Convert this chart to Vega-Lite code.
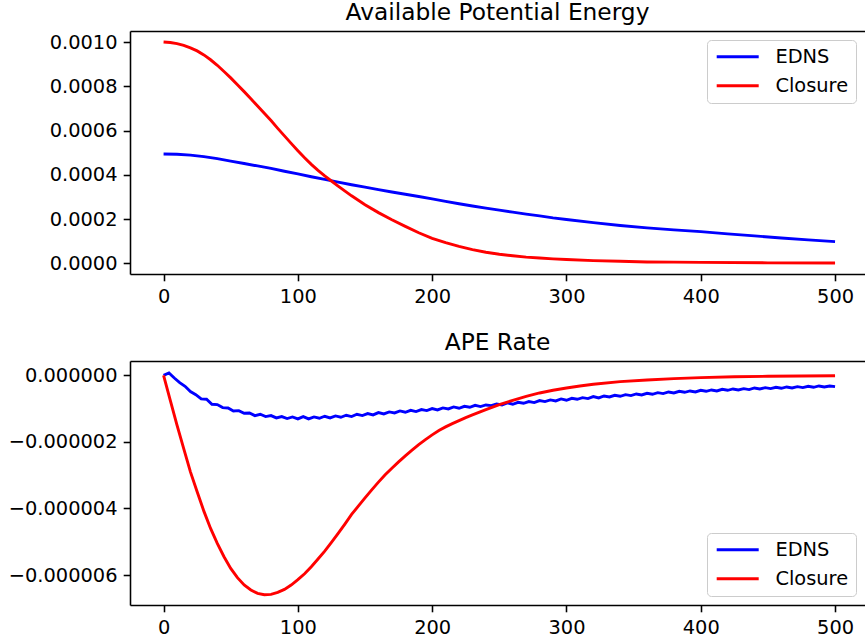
{
  "$schema": "https://vega.github.io/schema/vega-lite/v6.json",
  "padding": {"left": 5, "top": 0, "right": 0, "bottom": 0},
  "background": "white",
  "spacing": 24,
  "datasets": {
    "ape": [
      {"t": 0, "value": 0.000494, "series": "EDNS"},
      {"t": 10, "value": 0.000493, "series": "EDNS"},
      {"t": 20, "value": 0.000489, "series": "EDNS"},
      {"t": 30, "value": 0.000482, "series": "EDNS"},
      {"t": 40, "value": 0.000473, "series": "EDNS"},
      {"t": 50, "value": 0.000462, "series": "EDNS"},
      {"t": 60, "value": 0.000451, "series": "EDNS"},
      {"t": 70, "value": 0.000440, "series": "EDNS"},
      {"t": 80, "value": 0.000429, "series": "EDNS"},
      {"t": 90, "value": 0.000416, "series": "EDNS"},
      {"t": 100, "value": 0.000404, "series": "EDNS"},
      {"t": 110, "value": 0.000391, "series": "EDNS"},
      {"t": 120, "value": 0.000379, "series": "EDNS"},
      {"t": 130, "value": 0.000367, "series": "EDNS"},
      {"t": 140, "value": 0.000355, "series": "EDNS"},
      {"t": 150, "value": 0.000344, "series": "EDNS"},
      {"t": 160, "value": 0.000333, "series": "EDNS"},
      {"t": 170, "value": 0.000322, "series": "EDNS"},
      {"t": 180, "value": 0.000312, "series": "EDNS"},
      {"t": 190, "value": 0.000302, "series": "EDNS"},
      {"t": 200, "value": 0.000291, "series": "EDNS"},
      {"t": 210, "value": 0.000280, "series": "EDNS"},
      {"t": 220, "value": 0.000269, "series": "EDNS"},
      {"t": 230, "value": 0.000259, "series": "EDNS"},
      {"t": 240, "value": 0.000249, "series": "EDNS"},
      {"t": 250, "value": 0.000240, "series": "EDNS"},
      {"t": 260, "value": 0.000231, "series": "EDNS"},
      {"t": 270, "value": 0.000222, "series": "EDNS"},
      {"t": 280, "value": 0.000214, "series": "EDNS"},
      {"t": 290, "value": 0.000205, "series": "EDNS"},
      {"t": 300, "value": 0.000198, "series": "EDNS"},
      {"t": 320, "value": 0.000184, "series": "EDNS"},
      {"t": 340, "value": 0.000171, "series": "EDNS"},
      {"t": 360, "value": 0.000160, "series": "EDNS"},
      {"t": 380, "value": 0.000151, "series": "EDNS"},
      {"t": 400, "value": 0.000143, "series": "EDNS"},
      {"t": 420, "value": 0.000133, "series": "EDNS"},
      {"t": 440, "value": 0.000124, "series": "EDNS"},
      {"t": 460, "value": 0.000114, "series": "EDNS"},
      {"t": 480, "value": 0.000106, "series": "EDNS"},
      {"t": 500, "value": 0.000098, "series": "EDNS"},
      {"t": 0, "value": 0.001000, "series": "Closure"},
      {"t": 5, "value": 0.000998, "series": "Closure"},
      {"t": 10, "value": 0.000993, "series": "Closure"},
      {"t": 15, "value": 0.000985, "series": "Closure"},
      {"t": 20, "value": 0.000974, "series": "Closure"},
      {"t": 25, "value": 0.000960, "series": "Closure"},
      {"t": 30, "value": 0.000942, "series": "Closure"},
      {"t": 35, "value": 0.000920, "series": "Closure"},
      {"t": 40, "value": 0.000895, "series": "Closure"},
      {"t": 45, "value": 0.000867, "series": "Closure"},
      {"t": 50, "value": 0.000838, "series": "Closure"},
      {"t": 55, "value": 0.000807, "series": "Closure"},
      {"t": 60, "value": 0.000776, "series": "Closure"},
      {"t": 65, "value": 0.000744, "series": "Closure"},
      {"t": 70, "value": 0.000711, "series": "Closure"},
      {"t": 75, "value": 0.000678, "series": "Closure"},
      {"t": 80, "value": 0.000645, "series": "Closure"},
      {"t": 85, "value": 0.000610, "series": "Closure"},
      {"t": 90, "value": 0.000576, "series": "Closure"},
      {"t": 95, "value": 0.000542, "series": "Closure"},
      {"t": 100, "value": 0.000509, "series": "Closure"},
      {"t": 105, "value": 0.000477, "series": "Closure"},
      {"t": 110, "value": 0.000447, "series": "Closure"},
      {"t": 115, "value": 0.000420, "series": "Closure"},
      {"t": 120, "value": 0.000395, "series": "Closure"},
      {"t": 125, "value": 0.000372, "series": "Closure"},
      {"t": 130, "value": 0.000349, "series": "Closure"},
      {"t": 140, "value": 0.000305, "series": "Closure"},
      {"t": 150, "value": 0.000265, "series": "Closure"},
      {"t": 160, "value": 0.000229, "series": "Closure"},
      {"t": 170, "value": 0.000197, "series": "Closure"},
      {"t": 180, "value": 0.000167, "series": "Closure"},
      {"t": 190, "value": 0.000138, "series": "Closure"},
      {"t": 200, "value": 0.000113, "series": "Closure"},
      {"t": 210, "value": 0.000093, "series": "Closure"},
      {"t": 220, "value": 0.000076, "series": "Closure"},
      {"t": 230, "value": 0.000062, "series": "Closure"},
      {"t": 240, "value": 0.000050, "series": "Closure"},
      {"t": 250, "value": 0.000041, "series": "Closure"},
      {"t": 260, "value": 0.000034, "series": "Closure"},
      {"t": 270, "value": 0.000028, "series": "Closure"},
      {"t": 280, "value": 0.000024, "series": "Closure"},
      {"t": 290, "value": 0.000020, "series": "Closure"},
      {"t": 300, "value": 0.000017, "series": "Closure"},
      {"t": 320, "value": 0.000012, "series": "Closure"},
      {"t": 340, "value": 0.000009, "series": "Closure"},
      {"t": 360, "value": 0.000006, "series": "Closure"},
      {"t": 380, "value": 0.000005, "series": "Closure"},
      {"t": 400, "value": 0.000004, "series": "Closure"},
      {"t": 450, "value": 0.000002, "series": "Closure"},
      {"t": 500, "value": 0.000001, "series": "Closure"}
    ],
    "rate": [
      {"t": 0, "value": 0.0, "series": "EDNS"},
      {"t": 4, "value": 0.07e-6, "series": "EDNS"},
      {"t": 8, "value": -0.08e-6, "series": "EDNS"},
      {"t": 12, "value": -0.22e-6, "series": "EDNS"},
      {"t": 16, "value": -0.33e-6, "series": "EDNS"},
      {"t": 20, "value": -0.49e-6, "series": "EDNS"},
      {"t": 24, "value": -0.58e-6, "series": "EDNS"},
      {"t": 28, "value": -0.71e-6, "series": "EDNS"},
      {"t": 32, "value": -0.72e-6, "series": "EDNS"},
      {"t": 36, "value": -0.87e-6, "series": "EDNS"},
      {"t": 40, "value": -0.88e-6, "series": "EDNS"},
      {"t": 44, "value": -0.97e-6, "series": "EDNS"},
      {"t": 48, "value": -0.98e-6, "series": "EDNS"},
      {"t": 52, "value": -1.07e-6, "series": "EDNS"},
      {"t": 56, "value": -1.06e-6, "series": "EDNS"},
      {"t": 60, "value": -1.14e-6, "series": "EDNS"},
      {"t": 64, "value": -1.13e-6, "series": "EDNS"},
      {"t": 68, "value": -1.21e-6, "series": "EDNS"},
      {"t": 72, "value": -1.17e-6, "series": "EDNS"},
      {"t": 76, "value": -1.24e-6, "series": "EDNS"},
      {"t": 80, "value": -1.21e-6, "series": "EDNS"},
      {"t": 84, "value": -1.28e-6, "series": "EDNS"},
      {"t": 88, "value": -1.24e-6, "series": "EDNS"},
      {"t": 92, "value": -1.30e-6, "series": "EDNS"},
      {"t": 96, "value": -1.25e-6, "series": "EDNS"},
      {"t": 100, "value": -1.31e-6, "series": "EDNS"},
      {"t": 104, "value": -1.24e-6, "series": "EDNS"},
      {"t": 108, "value": -1.31e-6, "series": "EDNS"},
      {"t": 112, "value": -1.25e-6, "series": "EDNS"},
      {"t": 116, "value": -1.29e-6, "series": "EDNS"},
      {"t": 120, "value": -1.23e-6, "series": "EDNS"},
      {"t": 124, "value": -1.28e-6, "series": "EDNS"},
      {"t": 128, "value": -1.22e-6, "series": "EDNS"},
      {"t": 132, "value": -1.26e-6, "series": "EDNS"},
      {"t": 136, "value": -1.20e-6, "series": "EDNS"},
      {"t": 140, "value": -1.24e-6, "series": "EDNS"},
      {"t": 144, "value": -1.17e-6, "series": "EDNS"},
      {"t": 148, "value": -1.21e-6, "series": "EDNS"},
      {"t": 152, "value": -1.15e-6, "series": "EDNS"},
      {"t": 156, "value": -1.19e-6, "series": "EDNS"},
      {"t": 160, "value": -1.12e-6, "series": "EDNS"},
      {"t": 164, "value": -1.16e-6, "series": "EDNS"},
      {"t": 168, "value": -1.10e-6, "series": "EDNS"},
      {"t": 172, "value": -1.13e-6, "series": "EDNS"},
      {"t": 176, "value": -1.07e-6, "series": "EDNS"},
      {"t": 180, "value": -1.11e-6, "series": "EDNS"},
      {"t": 184, "value": -1.05e-6, "series": "EDNS"},
      {"t": 188, "value": -1.09e-6, "series": "EDNS"},
      {"t": 192, "value": -1.03e-6, "series": "EDNS"},
      {"t": 196, "value": -1.06e-6, "series": "EDNS"},
      {"t": 200, "value": -1.00e-6, "series": "EDNS"},
      {"t": 204, "value": -1.04e-6, "series": "EDNS"},
      {"t": 208, "value": -0.98e-6, "series": "EDNS"},
      {"t": 212, "value": -1.01e-6, "series": "EDNS"},
      {"t": 216, "value": -0.95e-6, "series": "EDNS"},
      {"t": 220, "value": -0.99e-6, "series": "EDNS"},
      {"t": 224, "value": -0.93e-6, "series": "EDNS"},
      {"t": 228, "value": -0.96e-6, "series": "EDNS"},
      {"t": 232, "value": -0.90e-6, "series": "EDNS"},
      {"t": 236, "value": -0.94e-6, "series": "EDNS"},
      {"t": 240, "value": -0.89e-6, "series": "EDNS"},
      {"t": 244, "value": -0.91e-6, "series": "EDNS"},
      {"t": 248, "value": -0.86e-6, "series": "EDNS"},
      {"t": 252, "value": -0.89e-6, "series": "EDNS"},
      {"t": 256, "value": -0.83e-6, "series": "EDNS"},
      {"t": 260, "value": -0.87e-6, "series": "EDNS"},
      {"t": 264, "value": -0.81e-6, "series": "EDNS"},
      {"t": 268, "value": -0.84e-6, "series": "EDNS"},
      {"t": 272, "value": -0.79e-6, "series": "EDNS"},
      {"t": 276, "value": -0.82e-6, "series": "EDNS"},
      {"t": 280, "value": -0.76e-6, "series": "EDNS"},
      {"t": 284, "value": -0.79e-6, "series": "EDNS"},
      {"t": 288, "value": -0.74e-6, "series": "EDNS"},
      {"t": 292, "value": -0.77e-6, "series": "EDNS"},
      {"t": 296, "value": -0.71e-6, "series": "EDNS"},
      {"t": 300, "value": -0.75e-6, "series": "EDNS"},
      {"t": 304, "value": -0.69e-6, "series": "EDNS"},
      {"t": 308, "value": -0.72e-6, "series": "EDNS"},
      {"t": 312, "value": -0.67e-6, "series": "EDNS"},
      {"t": 316, "value": -0.70e-6, "series": "EDNS"},
      {"t": 320, "value": -0.64e-6, "series": "EDNS"},
      {"t": 324, "value": -0.68e-6, "series": "EDNS"},
      {"t": 328, "value": -0.62e-6, "series": "EDNS"},
      {"t": 332, "value": -0.65e-6, "series": "EDNS"},
      {"t": 336, "value": -0.60e-6, "series": "EDNS"},
      {"t": 340, "value": -0.63e-6, "series": "EDNS"},
      {"t": 344, "value": -0.58e-6, "series": "EDNS"},
      {"t": 348, "value": -0.61e-6, "series": "EDNS"},
      {"t": 352, "value": -0.56e-6, "series": "EDNS"},
      {"t": 356, "value": -0.59e-6, "series": "EDNS"},
      {"t": 360, "value": -0.54e-6, "series": "EDNS"},
      {"t": 364, "value": -0.57e-6, "series": "EDNS"},
      {"t": 368, "value": -0.52e-6, "series": "EDNS"},
      {"t": 372, "value": -0.55e-6, "series": "EDNS"},
      {"t": 376, "value": -0.50e-6, "series": "EDNS"},
      {"t": 380, "value": -0.53e-6, "series": "EDNS"},
      {"t": 384, "value": -0.48e-6, "series": "EDNS"},
      {"t": 388, "value": -0.51e-6, "series": "EDNS"},
      {"t": 392, "value": -0.47e-6, "series": "EDNS"},
      {"t": 396, "value": -0.50e-6, "series": "EDNS"},
      {"t": 400, "value": -0.45e-6, "series": "EDNS"},
      {"t": 404, "value": -0.48e-6, "series": "EDNS"},
      {"t": 408, "value": -0.44e-6, "series": "EDNS"},
      {"t": 412, "value": -0.47e-6, "series": "EDNS"},
      {"t": 416, "value": -0.42e-6, "series": "EDNS"},
      {"t": 420, "value": -0.45e-6, "series": "EDNS"},
      {"t": 424, "value": -0.41e-6, "series": "EDNS"},
      {"t": 428, "value": -0.44e-6, "series": "EDNS"},
      {"t": 432, "value": -0.40e-6, "series": "EDNS"},
      {"t": 436, "value": -0.43e-6, "series": "EDNS"},
      {"t": 440, "value": -0.38e-6, "series": "EDNS"},
      {"t": 444, "value": -0.41e-6, "series": "EDNS"},
      {"t": 448, "value": -0.37e-6, "series": "EDNS"},
      {"t": 452, "value": -0.40e-6, "series": "EDNS"},
      {"t": 456, "value": -0.36e-6, "series": "EDNS"},
      {"t": 460, "value": -0.39e-6, "series": "EDNS"},
      {"t": 464, "value": -0.35e-6, "series": "EDNS"},
      {"t": 468, "value": -0.38e-6, "series": "EDNS"},
      {"t": 472, "value": -0.34e-6, "series": "EDNS"},
      {"t": 476, "value": -0.37e-6, "series": "EDNS"},
      {"t": 480, "value": -0.33e-6, "series": "EDNS"},
      {"t": 484, "value": -0.36e-6, "series": "EDNS"},
      {"t": 488, "value": -0.32e-6, "series": "EDNS"},
      {"t": 492, "value": -0.35e-6, "series": "EDNS"},
      {"t": 496, "value": -0.32e-6, "series": "EDNS"},
      {"t": 500, "value": -0.34e-6, "series": "EDNS"},
      {"t": 0, "value": 0.0, "series": "Closure"},
      {"t": 5, "value": -0.75e-6, "series": "Closure"},
      {"t": 10, "value": -1.5e-6, "series": "Closure"},
      {"t": 15, "value": -2.2e-6, "series": "Closure"},
      {"t": 20, "value": -2.9e-6, "series": "Closure"},
      {"t": 25, "value": -3.5e-6, "series": "Closure"},
      {"t": 30, "value": -4.08e-6, "series": "Closure"},
      {"t": 35, "value": -4.6e-6, "series": "Closure"},
      {"t": 40, "value": -5.05e-6, "series": "Closure"},
      {"t": 45, "value": -5.45e-6, "series": "Closure"},
      {"t": 50, "value": -5.8e-6, "series": "Closure"},
      {"t": 55, "value": -6.08e-6, "series": "Closure"},
      {"t": 60, "value": -6.3e-6, "series": "Closure"},
      {"t": 65, "value": -6.45e-6, "series": "Closure"},
      {"t": 70, "value": -6.55e-6, "series": "Closure"},
      {"t": 75, "value": -6.59e-6, "series": "Closure"},
      {"t": 80, "value": -6.58e-6, "series": "Closure"},
      {"t": 85, "value": -6.52e-6, "series": "Closure"},
      {"t": 90, "value": -6.43e-6, "series": "Closure"},
      {"t": 95, "value": -6.3e-6, "series": "Closure"},
      {"t": 100, "value": -6.14e-6, "series": "Closure"},
      {"t": 105, "value": -5.96e-6, "series": "Closure"},
      {"t": 110, "value": -5.75e-6, "series": "Closure"},
      {"t": 115, "value": -5.52e-6, "series": "Closure"},
      {"t": 120, "value": -5.28e-6, "series": "Closure"},
      {"t": 125, "value": -5.02e-6, "series": "Closure"},
      {"t": 130, "value": -4.75e-6, "series": "Closure"},
      {"t": 135, "value": -4.47e-6, "series": "Closure"},
      {"t": 140, "value": -4.18e-6, "series": "Closure"},
      {"t": 145, "value": -3.93e-6, "series": "Closure"},
      {"t": 150, "value": -3.68e-6, "series": "Closure"},
      {"t": 155, "value": -3.44e-6, "series": "Closure"},
      {"t": 160, "value": -3.21e-6, "series": "Closure"},
      {"t": 165, "value": -2.99e-6, "series": "Closure"},
      {"t": 170, "value": -2.79e-6, "series": "Closure"},
      {"t": 175, "value": -2.6e-6, "series": "Closure"},
      {"t": 180, "value": -2.42e-6, "series": "Closure"},
      {"t": 185, "value": -2.25e-6, "series": "Closure"},
      {"t": 190, "value": -2.08e-6, "series": "Closure"},
      {"t": 195, "value": -1.93e-6, "series": "Closure"},
      {"t": 200, "value": -1.79e-6, "series": "Closure"},
      {"t": 205, "value": -1.66e-6, "series": "Closure"},
      {"t": 210, "value": -1.55e-6, "series": "Closure"},
      {"t": 215, "value": -1.45e-6, "series": "Closure"},
      {"t": 220, "value": -1.36e-6, "series": "Closure"},
      {"t": 225, "value": -1.27e-6, "series": "Closure"},
      {"t": 230, "value": -1.19e-6, "series": "Closure"},
      {"t": 240, "value": -1.03e-6, "series": "Closure"},
      {"t": 250, "value": -0.88e-6, "series": "Closure"},
      {"t": 260, "value": -0.75e-6, "series": "Closure"},
      {"t": 270, "value": -0.63e-6, "series": "Closure"},
      {"t": 280, "value": -0.53e-6, "series": "Closure"},
      {"t": 290, "value": -0.45e-6, "series": "Closure"},
      {"t": 300, "value": -0.38e-6, "series": "Closure"},
      {"t": 310, "value": -0.32e-6, "series": "Closure"},
      {"t": 320, "value": -0.27e-6, "series": "Closure"},
      {"t": 340, "value": -0.19e-6, "series": "Closure"},
      {"t": 360, "value": -0.14e-6, "series": "Closure"},
      {"t": 380, "value": -0.1e-6, "series": "Closure"},
      {"t": 400, "value": -0.07e-6, "series": "Closure"},
      {"t": 425, "value": -0.045e-6, "series": "Closure"},
      {"t": 450, "value": -0.03e-6, "series": "Closure"},
      {"t": 475, "value": -0.02e-6, "series": "Closure"},
      {"t": 500, "value": -0.012e-6, "series": "Closure"}
    ]
  },
  "vconcat": [
    {
      "width": 735,
      "height": 243,
      "title": {"text": "Available Potential Energy", "frame": "group", "anchor": "middle", "baseline": "alphabetic", "offset": -12},
      "data": {"name": "ape"},
      "layer": [
        {
          "mark": {"type": "line", "strokeWidth": 2.9, "clip": true},
          "encoding": {
            "x": {"field": "t", "type": "quantitative", "scale": {"domain": [-25, 522.3], "nice": false, "zero": false},
                  "axis": {"orient": "bottom", "values": [0, 100, 200, 300, 400, 500], "format": "d"}},
            "y": {"field": "value", "type": "quantitative", "scale": {"domain": [-0.0000485, 0.00105], "nice": false, "zero": false},
                  "axis": {"values": [0, 0.0002, 0.0004, 0.0006, 0.0008, 0.001], "format": ".4f", "minExtent": 125, "maxExtent": 125}},
            "color": {"field": "series", "type": "nominal", "scale": {"domain": ["EDNS", "Closure"], "range": ["#0000ff", "#ff0000"]},
                      "legend": {"orient": "top-right", "offset": 9}},
            "order": {"field": "t", "type": "quantitative"}
          }
        },
        {
          "mark": {"type": "line", "opacity": 0},
          "encoding": {
            "x": {"field": "t", "type": "quantitative", "axis": {"orient": "top", "labels": false, "ticks": false, "domain": true, "minExtent": 0, "maxExtent": 0}},
            "y": {"field": "value", "type": "quantitative"}
          }
        }
      ],
      "resolve": {"axis": {"x": "independent"}}
    },
    {
      "width": 735,
      "height": 244,
      "title": {"text": "APE Rate", "frame": "group", "anchor": "middle", "baseline": "alphabetic", "offset": -12},
      "data": {"name": "rate"},
      "layer": [
        {
          "mark": {"type": "line", "strokeWidth": 2.9, "clip": true},
          "encoding": {
            "x": {"field": "t", "type": "quantitative", "scale": {"domain": [-25, 522.3], "nice": false, "zero": false},
                  "axis": {"orient": "bottom", "values": [0, 100, 200, 300, 400, 500], "format": "d"}},
            "y": {"field": "value", "type": "quantitative", "scale": {"domain": [-6.90e-6, 0.43e-6], "nice": false, "zero": false},
                  "axis": {"values": [-6e-6, -4e-6, -2e-6, 0], "format": ".6f", "minExtent": 125, "maxExtent": 125}},
            "color": {"field": "series", "type": "nominal", "scale": {"domain": ["EDNS", "Closure"], "range": ["#0000ff", "#ff0000"]},
                      "legend": {"orient": "bottom-right", "offset": 9}},
            "order": {"field": "t", "type": "quantitative"}
          }
        },
        {
          "mark": {"type": "line", "opacity": 0},
          "encoding": {
            "x": {"field": "t", "type": "quantitative", "axis": {"orient": "top", "labels": false, "ticks": false, "domain": true, "minExtent": 0, "maxExtent": 0}},
            "y": {"field": "value", "type": "quantitative"}
          }
        }
      ],
      "resolve": {"axis": {"x": "independent"}}
    }
  ],
  "resolve": {"scale": {"color": "independent"}, "legend": {"color": "independent"}},
  "config": {
    "font": "DejaVu Sans",
    "view": {"stroke": null},
    "title": {"font": "DejaVu Sans", "fontSize": 23.3, "fontWeight": "normal", "color": "#000000"},
    "axis": {
      "domainColor": "#000000", "domainWidth": 1.56, "tickColor": "#000000", "tickWidth": 1.56, "tickSize": 6.8,
      "labelPadding": 6.2, "labelFontSize": 19.4, "labelColor": "#000000", "labelFont": "DejaVu Sans",
      "grid": false, "title": null
    },
    "legend": {
      "title": null, "symbolType": "M-1,0H5", "symbolSize": 196, "symbolStrokeWidth": 2.9,
      "labelFontSize": 19.4, "labelFont": "DejaVu Sans", "labelColor": "#000000", "labelOffset": 42,
      "padding": 7, "rowPadding": 8, "strokeColor": "#cccccc", "fillColor": "rgba(255,255,255,0.8)",
      "cornerRadius": 4
    }
  }
}
